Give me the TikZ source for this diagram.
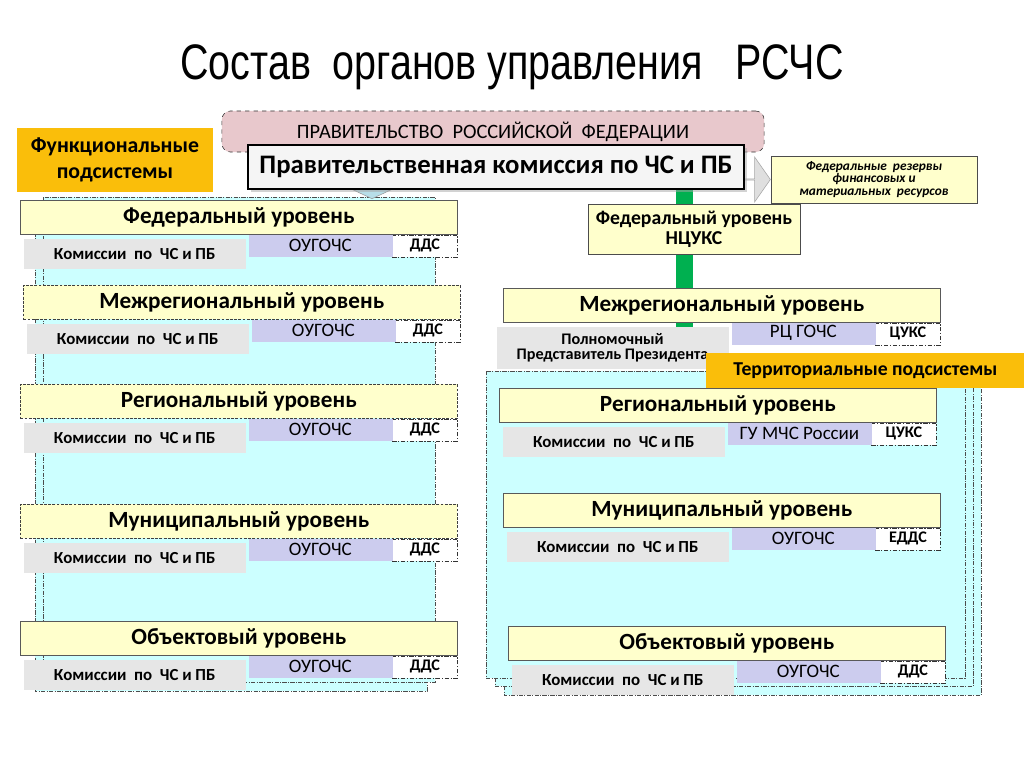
\documentclass[tikz,border=0pt]{standalone}
\usepackage{fontspec}
\setmainfont{Carlito}
\newfontfamily\titlefont[FakeStretch=0.79]{Liberation Sans}
\usetikzlibrary{positioning, shapes.arrows, shadows}

\definecolor{lvlyellow}{RGB}{255,255,204}
\definecolor{orgblue}{RGB}{204,204,238}
\definecolor{komgray}{RGB}{230,230,230}
\definecolor{panelcyan}{RGB}{204,255,255}
\definecolor{subsorange}{RGB}{250,190,10}
\definecolor{govpink}{RGB}{232,200,204}
\definecolor{arrowblue}{RGB}{183,222,232}
\definecolor{bargreen}{RGB}{0,176,80}

% one level: bar, then org box and duty box under its right end
\newcommand{\lvlrow}[7]{%
  \node[lvl, #5, anchor=north west] (#1) at (#2,#3) {#4};
  \node[duty, anchor=north east] (#1-d) at (#1.south east) {#7};
  \node[org, anchor=north east] (#1-o) at (#1-d.north west) {#6};
}

\begin{document}
\begin{tikzpicture}[
    x=0.025cm, y=-0.025cm,
    lvl/.style={rectangle, fill=lvlyellow, draw=gray!70!black, inner sep=0pt, minimum width=10.925cm, minimum height=0.85cm, font=\bfseries\fontsize{16.5}{18}\selectfont},
    dashbar/.style={dash pattern=on 2pt off 1pt, draw=black!75},
    org/.style={rectangle, fill=orgblue, draw=orgblue, line width=0.3pt, inner sep=0pt, minimum width=3.575cm, minimum height=0.525cm, font=\fontsize{13.5}{14}\selectfont},
    duty/.style={rectangle, fill=white, draw=black!80, dash pattern=on 3pt off 1.2pt on 0.8pt off 1.2pt, inner sep=0pt, minimum width=1.625cm, minimum height=0.55cm, font=\bfseries\fontsize{11.5}{12}\selectfont},
    kom/.style={rectangle, fill=komgray, draw=komgray, line width=0.3pt, inner sep=0pt, minimum width=5.525cm, minimum height=0.725cm, font=\bfseries\fontsize{12}{13}\selectfont},
    panel/.style={fill=panelcyan, draw=black!70, line width=0.5pt, dash pattern=on 3pt off 1pt on 0.6pt off 1pt},
    subs/.style={rectangle, fill=subsorange, draw=none, inner sep=0pt, align=center, font=\bfseries\fontsize{15.5}{19}\selectfont},
    note/.style={rectangle, fill=lvlyellow, draw=gray!60!black, inner sep=0pt, align=center}
]
    \useasboundingbox (0,0) rectangle (1024,768);

    \node (title) at (512,67) {\titlefont\fontsize{35.5}{40}\selectfont Состав\ \ органов управления\ \ \ РСЧС};

    % cyan panels behind the levels
    \draw[panel] (35,201) rectangle (427,691);
    \draw[panel] (43,197) rectangle (435,682);
    \draw[panel] (504,387) rectangle (981,695);
    \draw[panel] (495,379) rectangle (973,686);
    \draw[panel] (486,371) rectangle (965,678);

    \fill[bargreen] (676,185) rectangle (693,330);

    \node (gov) [rectangle, rounded corners=6pt, fill=govpink, draw=black!80, dashed, minimum width=13.55cm, minimum height=1.025cm, inner sep=0pt, font=\fontsize{14.5}{15}\selectfont] at (493,131.5) {ПРАВИТЕЛЬСТВО\ \ РОССИЙСКОЙ\ \ ФЕДЕРАЦИИ};

    \node (res) [note, minimum width=5.15cm, minimum height=1.175cm, font=\bfseries\itshape\fontsize{9.5}{8.9}\selectfont, drop shadow={shadow xshift=1pt, shadow yshift=-1pt, fill=gray!50}] at (874,179.5) {Федеральные\ \ резервы\\финансовых и\\материальных\ \ ресурсов};
    \node (resarrow) [single arrow, anchor=tip, fill=gray!25, draw=gray!70, inner sep=0pt, minimum height=0.8cm, minimum width=1.12cm, single arrow head extend=0.28cm, single arrow tip angle=110] at (res.west) {};
    \node (fedarrow) [single arrow, anchor=tip, shape border rotate=270, fill=arrowblue, draw=gray!80, inner sep=0pt, minimum height=0.45cm, minimum width=0.95cm, single arrow head extend=0.26cm, single arrow tip angle=130] at (372,199) {};

    \node (com) [rectangle, fill=gray!8, draw=black, line width=1.4pt, minimum width=12.4cm, minimum height=1.1cm, inner sep=0pt, font=\bfseries\fontsize{19}{20}\selectfont, drop shadow={shadow xshift=2pt, shadow yshift=-2pt, fill=gray!70}] at (496,167) {Правительственная комиссия по ЧС и ПБ};

    \node (func) [subs, minimum width=4.9cm, minimum height=1.6cm] at (115,160) {Функциональные\\подсистемы};

    \node (ncuks) [note, minimum width=5.3cm, minimum height=1.26cm, font=\bfseries\fontsize{14}{14.5}\selectfont] at (694,229) {Федеральный уровень\\НЦУКС};

    % functional subsystems
    \lvlrow{lfed}{20}{200}{Федеральный уровень}{}{ОУГОЧС}{ДДС}
    \lvlrow{lmreg}{23}{285}{Межрегиональный уровень}{dashbar}{ОУГОЧС}{ДДС}
    \lvlrow{lreg}{20}{384}{Региональный уровень}{dashbar}{ОУГОЧС}{ДДС}
    \lvlrow{lmun}{20}{504}{Муниципальный уровень}{dashbar}{ОУГОЧС}{ДДС}
    \lvlrow{lobj}{20}{621}{Объектовый уровень}{}{ОУГОЧС}{ДДС}

    % territorial subsystems
    \lvlrow{rmreg}{503}{288}{Межрегиональный уровень}{}{РЦ ГОЧС}{ЦУКС}
    \lvlrow{rreg}{499}{388}{Региональный уровень}{}{ГУ МЧС России}{ЦУКС}
    \lvlrow{rmun}{503}{493}{Муниципальный уровень}{}{ОУГОЧС}{ЕДДС}
    \lvlrow{robj}{508}{626}{Объектовый уровень}{}{ОУГОЧС}{ДДС}

    \foreach \n in {lfed, lmreg, lreg, lmun, lobj, rreg, rmun, robj}
        \node[kom, anchor=north west] (\n-k) at ([xshift=0.1cm, yshift=-0.12cm]\n.south west) {Комиссии~ по~ ЧС и ПБ};

    \node (pred) [kom, minimum width=5.775cm, minimum height=1.025cm, align=center, font=\bfseries\fontsize{11.5}{10.5}\selectfont] at (612.5,347.5) {Полномочный\\Представитель Президента};

    \node (terr) [subs, anchor=north west, minimum width=7.95cm, minimum height=0.875cm, font=\bfseries\fontsize{14}{16}\selectfont] at (706,353) {Территориальные подсистемы};
\end{tikzpicture}
\end{document}
